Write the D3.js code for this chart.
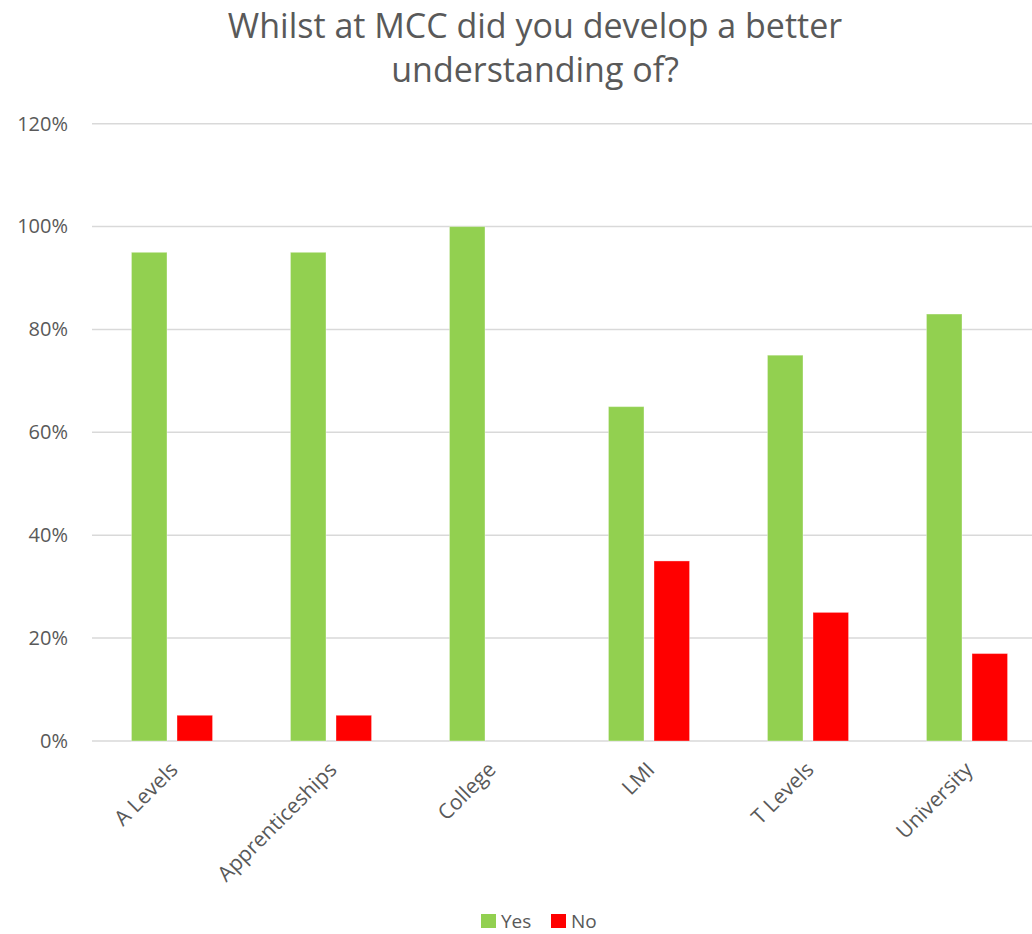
<!DOCTYPE html>
<html>
<head>
<meta charset="utf-8">
<script src="https://cdn.jsdelivr.net/npm/d3@7"></script>
<style>
  html, body { margin: 0; padding: 0; background: #fff; overflow: hidden; }
  svg text { font-family: "Open Sans", "Noto Sans", sans-serif; fill: #595959; }
</style>
</head>
<body>
<div id="chart"></div>
<script>
const categories = ["A Levels", "Apprenticeships", "College", "LMI", "T Levels", "University"];
const seriesNames = ["Yes", "No"];
const yesValues = [0.95, 0.95, 1.00, 0.65, 0.75, 0.83];
const noValues = [0.05, 0.05, 0.00, 0.35, 0.25, 0.17];
const yTicks = [0, 0.2, 0.4, 0.6, 0.8, 1.0, 1.2];
const titleLines = ["Whilst at MCC did you develop a better", "understanding of?"];

const colors = { Yes: "#92D050", No: "#FF0000" };

const width = 1032, height = 934;
const svg = d3.select("#chart").append("svg")
    .attr("width", width)
    .attr("height", height);

// title
svg.append("text")
    .attr("x", 535)
    .attr("y", 38)
    .attr("text-anchor", "middle")
    .style("font-size", "34px")
    .selectAll("tspan")
    .data(titleLines)
    .join("tspan")
    .attr("x", 535)
    .attr("dy", (d, i) => i === 0 ? 0 : 44)
    .text(d => d);

const x0 = d3.scaleBand().domain(categories).range([92.5, 1046.5])
    .paddingInner(0.49).paddingOuter(0.245);
const x1 = d3.scaleBand().domain(seriesNames).range([0, x0.bandwidth()]).paddingInner(0.22);
const y = d3.scaleLinear().domain([0, 1.2]).range([741, 123.7]);

// gridlines
svg.append("g")
    .selectAll("line")
    .data(yTicks)
    .join("line")
    .attr("x1", 92).attr("x2", width)
    .attr("y1", d => y(d)).attr("y2", d => y(d))
    .attr("stroke", "#d9d9d9")
    .attr("stroke-width", 1.5);

// y axis labels
const yAxis = svg.append("g")
    .attr("transform", "translate(68,0)")
    .call(d3.axisLeft(y).tickValues(yTicks).tickFormat(d3.format(".0%")).tickSize(0).tickPadding(0));
yAxis.select(".domain").remove();
yAxis.selectAll("text")
    .style("font-size", "20px")
    .attr("fill", "#595959");

// bars
const rows = categories.map((c, i) => ({ category: c, Yes: yesValues[i], No: noValues[i] }));
svg.append("g")
    .selectAll("g")
    .data(rows)
    .join("g")
    .attr("transform", d => `translate(${x0(d.category)},0)`)
    .selectAll("rect")
    .data(d => seriesNames.map(k => ({ key: k, value: d[k] })).filter(d => d.value > 0))
    .join("rect")
    .attr("x", d => x1(d.key))
    .attr("width", x1.bandwidth())
    .attr("y", d => y(d.value))
    .attr("height", d => y(0) - y(d.value))
    .attr("fill", d => colors[d.key])
    .attr("stroke", "#fff")
    .attr("stroke-opacity", 0.35)
    .attr("stroke-width", 1);

// x axis labels
const xAxis = svg.append("g")
    .attr("transform", `translate(0,${y(0)})`)
    .call(d3.axisBottom(x0).tickSize(0).tickPadding(0));
xAxis.select(".domain").remove();
xAxis.selectAll("text")
    .style("font-size", "21px")
    .attr("fill", "#595959")
    .attr("text-anchor", "end")
    .attr("dy", null)
    .attr("transform", "translate(7,30) rotate(-45)");

// legend
const legend = svg.append("g").attr("transform", "translate(481,914)");
const legendX = [0, 70];
seriesNames.forEach((k, i) => {
    const g = legend.append("g").attr("transform", `translate(${legendX[i]},0)`);
    g.append("rect").attr("width", 15).attr("height", 14).attr("fill", colors[k]);
    g.append("text").attr("x", 20).attr("y", 14).style("font-size", "19px").text(k);
});
</script>
</body>
</html>
